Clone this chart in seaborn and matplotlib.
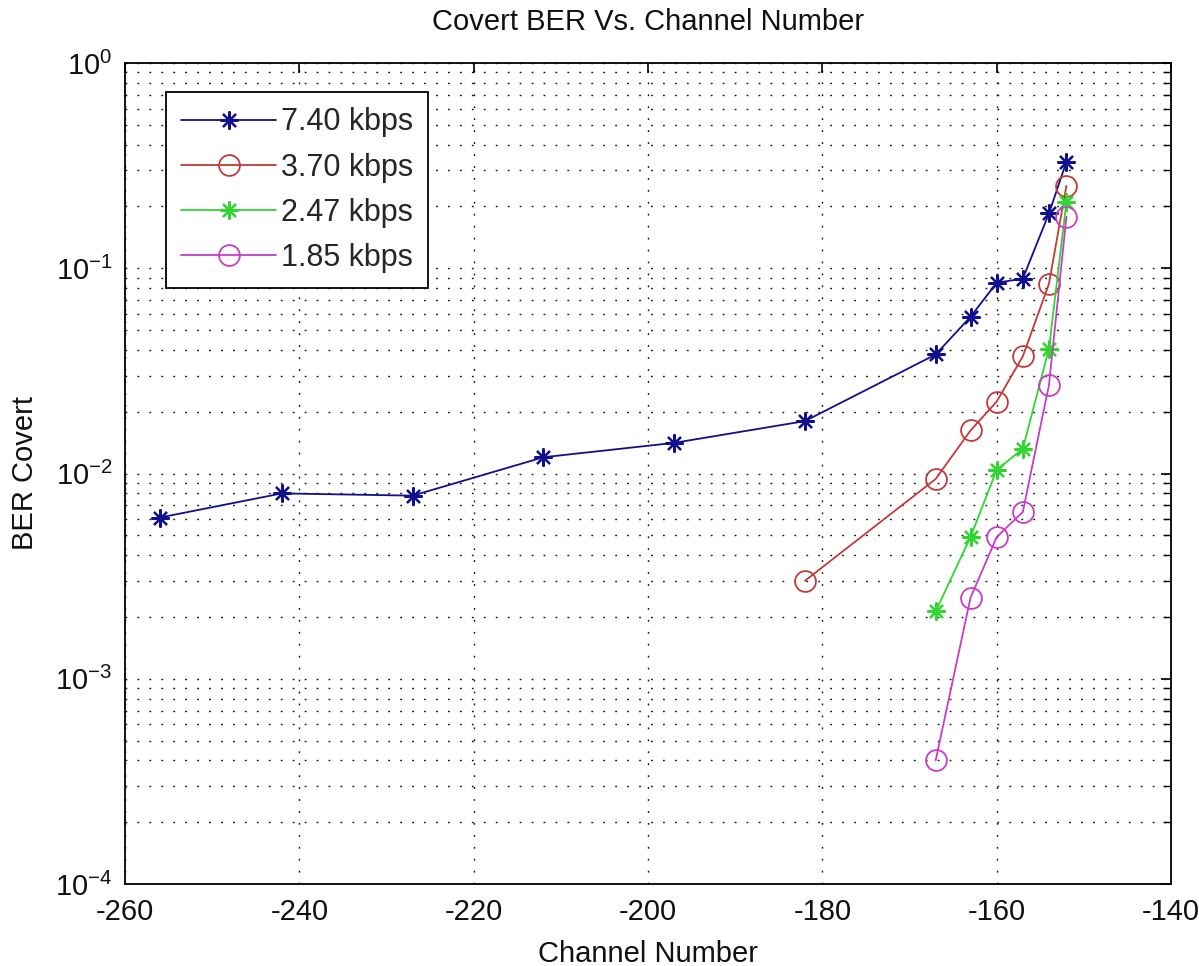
import numpy as np
import pandas as pd
import matplotlib
matplotlib.use("Agg")
import matplotlib.pyplot as plt
from matplotlib.ticker import LogLocator, FixedLocator, FuncFormatter, NullFormatter
from matplotlib.lines import Line2D
import seaborn as sns

# Channel numbers and covert bit error rates for each data rate
ch_740 = [-256, -242, -227, -212, -197, -182, -167, -163, -160, -157, -154, -152]
ber_740 = [0.0061, 0.0080, 0.0078, 0.0120, 0.0141, 0.0180, 0.038, 0.058, 0.085, 0.089, 0.185, 0.330]

ch_370 = [-182, -167, -163, -160, -157, -154, -152]
ber_370 = [0.0030, 0.0094, 0.0162, 0.0224, 0.0372, 0.0840, 0.252]

ch_247 = [-167, -163, -160, -157, -154, -152]
ber_247 = [0.00213, 0.00490, 0.0104, 0.0132, 0.0405, 0.210]

ch_185 = [-167, -163, -160, -157, -154, -152]
ber_185 = [0.00040, 0.00248, 0.00490, 0.00650, 0.0270, 0.178]

labels = ["7.40 kbps", "3.70 kbps", "2.47 kbps", "1.85 kbps"]
colors = ["#10108c", "#c23a3a", "#2fd62f", "#c83cc8"]
markers = ["*", "o", "*", "o"]

x_ticks = [-260, -240, -220, -200, -180, -160, -140]

sns.set_theme(style="white")
plt.rcParams["font.family"] = ["Liberation Sans", "DejaVu Sans"]
plt.rcParams["axes.unicode_minus"] = False
plt.rcParams["mathtext.fontset"] = "custom"
plt.rcParams["mathtext.rm"] = "Liberation Sans"
plt.rcParams["mathtext.it"] = "Liberation Sans"
plt.rcParams["mathtext.default"] = "rm"

FS = 21
TXT = "#111111"

fig = plt.figure(figsize=(11.99, 9.66), dpi=100)
fig.patch.set_facecolor("white")
ax = fig.add_axes([125 / 1199, 1 - 884 / 966, 1046 / 1199, 821 / 966])

series = [(ch_740, ber_740), (ch_370, ber_370), (ch_247, ber_247), (ch_185, ber_185)]
handles = []
for (xs, ys), lab, col, mk in zip(series, labels, colors, markers):
    df = pd.DataFrame({"channel": xs, "ber": ys})
    if mk == "*":
        mkw = dict(marker=(8, 2, 0), markersize=13, markeredgewidth=1.6,
                   markeredgecolor=col, markerfacecolor=col)
    else:
        mkw = dict(marker="o", markersize=15, markeredgewidth=1.3,
                   markeredgecolor=col, markerfacecolor="none")
    sns.lineplot(data=df, x="channel", y="ber", ax=ax, color=col, linewidth=1.3,
                 estimator=None, sort=False, legend=False, **mkw)
    handles.append(Line2D([0], [0], color=col, linewidth=1.3, **mkw))

ax.set_yscale("log")
ax.set_xlim(-260, -140)
ax.set_ylim(1e-4, 1)

ax.xaxis.set_major_locator(FixedLocator(x_ticks))
ax.yaxis.set_major_locator(LogLocator(base=10, numticks=10))
ax.yaxis.set_minor_locator(LogLocator(base=10, subs=np.arange(2, 10), numticks=20))
ax.yaxis.set_minor_formatter(NullFormatter())
ax.yaxis.set_major_formatter(FuncFormatter(lambda v, p: r"$10^{%d}$" % int(round(np.log10(v)))))

grid_style = dict(color="#111111", linestyle=(0, (1.3, 7.3)), linewidth=1.0)
ax.grid(True, which="major", axis="both", **grid_style)
ax.grid(True, which="minor", axis="y", **grid_style)

ax.tick_params(axis="both", which="both", direction="in", top=True, right=True,
               colors="black", labelcolor=TXT, labelsize=FS)
ax.tick_params(axis="x", which="major", length=7, width=1.2, pad=10)
ax.tick_params(axis="y", which="major", length=7, width=1.2, pad=9)
ax.tick_params(axis="y", which="minor", length=6, width=1.0)
for s in ax.spines.values():
    s.set_color("black")
    s.set_linewidth(1.3)

ax.set_title("Covert BER Vs. Channel Number", fontsize=FS, pad=24, color=TXT)
ax.set_xlabel("Channel Number", fontsize=FS, labelpad=10, color=TXT)
ax.set_ylabel("BER Covert", fontsize=FS, color=TXT)
ax.yaxis.set_label_coords(-0.082, 0.5)

leg = ax.legend(handles, labels, loc="upper left", bbox_to_anchor=(0.0392, 0.9647),
                borderaxespad=0, fontsize=FS + 1, handlelength=3.1, handletextpad=0.15,
                labelspacing=0.5, borderpad=0.5, fancybox=False, framealpha=1,
                edgecolor="black")
leg.get_frame().set_linewidth(1.3)

fig.savefig("out.png", dpi=100, facecolor="white")
